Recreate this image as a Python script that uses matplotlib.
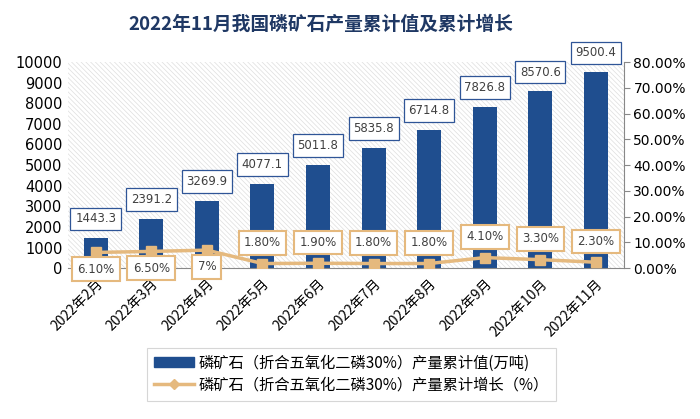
import matplotlib
matplotlib.use("Agg")
import matplotlib.pyplot as plt
from matplotlib.patches import Rectangle, Patch
from matplotlib.lines import Line2D
import numpy as np

plt.rcParams['font.family'] = ['Noto Sans CJK SC', 'DejaVu Sans']

months = ["2022年2月", "2022年3月", "2022年4月", "2022年5月", "2022年6月",
          "2022年7月", "2022年8月", "2022年9月", "2022年10月", "2022年11月"]
output_values = [1443.3, 2391.2, 3269.9, 4077.1, 5011.8, 5835.8, 6714.8, 7826.8, 8570.6, 9500.4]
growth_pct = [6.10, 6.50, 7.0, 1.80, 1.90, 1.80, 1.80, 4.10, 3.30, 2.30]
growth_labels = ["6.10%", "6.50%", "7%", "1.80%", "1.90%", "1.80%", "1.80%", "4.10%", "3.30%", "2.30%"]
left_ticks = list(range(0, 10001, 1000))
right_ticks = list(range(0, 81, 10))

title = "2022年11月我国磷矿石产量累计值及累计增长"
legend_bar = "磷矿石（折合五氧化二磷30%）产量累计值(万吨)"
legend_line = "磷矿石（折合五氧化二磷30%）产量累计增长（%）"

bar_color = "#1f4e8f"
line_color = "#e5b97e"
bar_box_edge = "#2f5597"
text_gray = "#404040"

fig = plt.figure(figsize=(7.0, 4.19), dpi=100)
ax = fig.add_axes([0.097, 0.360, 0.794, 0.492])
ax2 = ax.twinx()

x = np.arange(len(months))
ax.set_xlim(-0.5, len(months) - 0.5)
ax.set_ylim(0, 10000)
ax2.set_ylim(0, 80)

# hatched plot background
plt.rcParams['hatch.linewidth'] = 0.5
bg = Rectangle((0, 0), 1, 1, transform=ax.transAxes, facecolor="white",
               edgecolor="#dedede", hatch="\\" * 7, linewidth=0, zorder=0)
ax.add_patch(bg)

ax.bar(x, output_values, width=0.43, color=bar_color, zorder=2)

for xi, v in zip(x, output_values):
    ax.annotate(f"{v:.1f}", (xi, v), xytext=(0, 14), textcoords="offset points",
                ha="center", va="center", fontsize=8.5, color=text_gray,
                family="DejaVu Sans",
                bbox=dict(boxstyle="square,pad=0.4", fc="white", ec=bar_box_edge, lw=0.9),
                zorder=5)

ax2.plot(x, growth_pct, color=line_color, lw=2.5, marker="s", markersize=7,
         markerfacecolor=line_color, markeredgecolor=line_color, zorder=3)

for i, (xi, v, lab) in enumerate(zip(x, growth_pct, growth_labels)):
    off = -12 if i < 3 else 15
    ax2.annotate(lab, (xi, v), xytext=(0, off), textcoords="offset points",
                 ha="center", va="center", fontsize=8.5, color=text_gray,
                 family="DejaVu Sans",
                 bbox=dict(boxstyle="square,pad=0.45", fc="white", ec=line_color, lw=1.5),
                 zorder=6)

ax.set_zorder(1)
ax2.set_zorder(2)
ax2.patch.set_visible(False)

ax.set_yticks(left_ticks)
ax.set_yticklabels([str(t) for t in left_ticks], fontsize=10.5, family="DejaVu Sans")
ax2.set_yticks(right_ticks)
ax2.set_yticklabels([f"{t:.2f}%" for t in right_ticks], fontsize=10, family="DejaVu Sans")

ax.set_xticks(x)
ax.set_xticklabels(months, rotation=45, ha="right", va="top", rotation_mode="anchor",
                   fontsize=10)
ax.tick_params(axis="x", length=0, pad=6)
ax.tick_params(axis="y", length=0, pad=4)
ax2.tick_params(axis="y", length=4, color="#888888", pad=3)

for s in ["top", "left", "right"]:
    ax.spines[s].set_visible(False)
for s in ["top", "left", "bottom"]:
    ax2.spines[s].set_visible(False)
ax.spines["bottom"].set_color("#888888")
ax2.spines["right"].set_color("#888888")

fig.text(0.459, 0.942, title, ha="center", va="center", fontsize=13.5,
         fontweight="bold", color="#1f3864")

handles = [Patch(facecolor=bar_color, edgecolor=bar_color),
           Line2D([0], [0], color=line_color, lw=2.5, marker="D", markersize=5)]
leg = fig.legend(handles, [legend_bar, legend_line], loc="center",
                 bbox_to_anchor=(0.502, 0.107), fontsize=11, frameon=True,
                 fancybox=False, edgecolor="#cccccc", handlelength=2.6,
                 handletextpad=0.3, borderpad=0.45, labelspacing=0.35)
leg.get_frame().set_linewidth(0.8)

fig.savefig("out.png", dpi=100)
